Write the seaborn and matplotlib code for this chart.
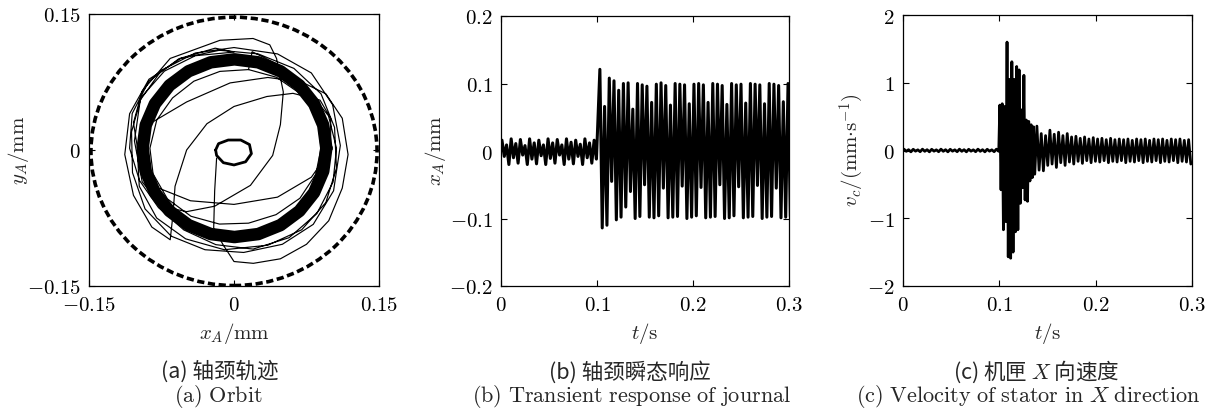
import numpy as np
import pandas as pd
import matplotlib
matplotlib.use("Agg")
import matplotlib.pyplot as plt
from matplotlib.patches import Circle
from matplotlib.ticker import FuncFormatter
import seaborn as sns

# ---------------- data ----------------
# (a) orbit
clear_r = 0.148            # clearance circle radius
clear_cx, clear_cy = 0.0, -0.0015

small_x = [-0.019, -0.016, -0.006, 0.007, 0.016, 0.018, 0.012, 0.000, -0.011, -0.018, -0.019]
small_y = [0.000, 0.007, 0.011, 0.011, 0.006, -0.004, -0.013, -0.0165, -0.014, -0.006, 0.000]

ring_x = [0.0955, 0.0923, 0.0828, 0.0677, 0.0480, 0.0251, 0.0005, -0.0241, -0.0470, -0.0667,
          -0.0818, -0.0913, -0.0945, -0.0913, -0.0818, -0.0667, -0.0470, -0.0241, 0.0005, 0.0251,
          0.0480, 0.0677, 0.0828, 0.0923, 0.0955]
ring_y = [0.002, 0.0274, 0.051, 0.0713, 0.0869, 0.0967, 0.100, 0.0967, 0.0869, 0.0713,
          0.051, 0.0274, 0.002, -0.0234, -0.047, -0.0673, -0.0829, -0.0927, -0.096, -0.0927,
          -0.0829, -0.0673, -0.047, -0.0234, 0.002]

orbit_x = [-0.018, -0.020, -0.021, -0.011, 0.000, 0.020, 0.048, 0.075, 0.098, 0.112, 0.118, 0.112,
           0.095, 0.070, 0.035, -0.004, -0.049, -0.084, -0.100, -0.098, -0.080, -0.050, -0.010,
           0.035, 0.070, 0.095, 0.106, 0.104, 0.090, 0.062, 0.025, -0.015, -0.055, -0.088, -0.108,
           -0.113, -0.104, -0.085, -0.066, -0.063, -0.061, -0.049, -0.028, 0.000, 0.034, 0.061,
           0.089, 0.100, 0.100, 0.080, 0.045, 0.000, -0.045, -0.078, -0.098, -0.104, -0.095,
           -0.066, -0.0145, 0.0197, 0.037, 0.044, 0.051, 0.048, 0.040, 0.017, -0.020, -0.049,
           -0.075, -0.095, -0.103, -0.097, -0.075, -0.040, 0.000, 0.045, 0.080, 0.102, 0.110,
           0.103, 0.082, 0.050, 0.010, -0.030, -0.065, -0.092, -0.105, -0.106, -0.096, -0.072,
           -0.040, 0.000,
           -0.0195, -0.057, -0.0881, -0.1053, -0.108, -0.0978, -0.0781, -0.052, -0.0188, 0.0197,
           0.057, 0.0858, 0.1025, 0.106, 0.0978, 0.0766, 0.0515, 0.0188,
           0.015, -0.0146, -0.0415, -0.0636, -0.0799, -0.087, -0.0837, -0.0689, -0.0445, -0.0151,
           0.015, 0.0435, 0.0682, 0.0846, 0.090, 0.0865, 0.0689, 0.044, 0.015]
orbit_y = [-0.009, -0.045, -0.086, -0.105, -0.123, -0.125, -0.120, -0.104, -0.078, -0.042, -0.005,
           0.035, 0.062, 0.075, 0.080, 0.074, 0.053, 0.031, 0.000, -0.040, -0.075, -0.098, -0.110,
           -0.105, -0.088, -0.058, -0.020, 0.025, 0.062, 0.090, 0.106, 0.110, 0.101, 0.078, 0.040,
           -0.005, -0.050, -0.085, -0.099, -0.070, -0.040, 0.000, 0.029, 0.048, 0.059, 0.0625,
           0.055, 0.035, 0.000, -0.030, -0.052, -0.060, -0.056, -0.042, -0.010, 0.030, 0.065,
           0.101, 0.121, 0.123, 0.116, 0.101, 0.064, 0.028, -0.006, -0.039, -0.062, -0.068,
           -0.062, -0.035, 0.010, 0.055, 0.088, 0.107, 0.113, 0.106, 0.085, 0.050, 0.005,
           -0.045, -0.082, -0.104, -0.113, -0.110, -0.095, -0.065, -0.025, 0.020, 0.058, 0.087,
           0.104, 0.108,
           0.1123, 0.1007, 0.0759, 0.0403, 0.002, -0.0336, -0.0636, -0.0881, -0.1044, -0.1093,
           -0.0967, -0.070, -0.0353, 0.002, 0.0376, 0.0663, 0.0912, 0.1084,
           0.0887, 0.0867, 0.0759, 0.0574, 0.0331, 0.002, -0.0264, -0.0539, -0.0731, -0.0817,
           -0.0807, -0.0713, -0.0532, -0.0268, 0.002, 0.0355, 0.0619, 0.0802, 0.0887]

# (b) journal displacement: per-cycle peaks and troughs
pre_peak_t = [0.0010, 0.0058, 0.0106, 0.0154, 0.0202, 0.0250, 0.0298, 0.0346, 0.0394, 0.0442, 0.0490,
              0.0538, 0.0586, 0.0634, 0.0682, 0.0730, 0.0778, 0.0826, 0.0874, 0.0922, 0.0970]
pre_trough_t = [0.0034, 0.0082, 0.0130, 0.0178, 0.0226, 0.0274, 0.0322, 0.0370, 0.0418, 0.0466, 0.0514,
                0.0562, 0.0610, 0.0658, 0.0706, 0.0754, 0.0802, 0.0850, 0.0898, 0.0946, 0.0994]
b_pre_peak = [0.016, 0.009, 0.018, 0.011, 0.017, 0.008, 0.018, 0.012, 0.016, 0.009, 0.018,
              0.012, 0.017, 0.009, 0.018, 0.013, 0.016, 0.010, 0.018, 0.012, 0.016]
b_pre_trough = [-0.008, -0.020, -0.010, -0.018, -0.006, -0.020, -0.012, -0.019, -0.007, -0.020, -0.011,
                -0.018, -0.006, -0.020, -0.012, -0.019, -0.008, -0.020, -0.010, -0.018, -0.012]

b_post_peak_t = [0.1030, 0.1079, 0.1128, 0.1177, 0.1226, 0.1275, 0.1324, 0.1373, 0.1422, 0.1471,
                 0.1520, 0.1569, 0.1618, 0.1667, 0.1716, 0.1765, 0.1814, 0.1863, 0.1912, 0.1961,
                 0.2010, 0.2059, 0.2108, 0.2157, 0.2206, 0.2255, 0.2304, 0.2353, 0.2402, 0.2451,
                 0.2500, 0.2549, 0.2598, 0.2647, 0.2696, 0.2745, 0.2794, 0.2843, 0.2892, 0.2941, 0.2990]
b_post_trough_t = [0.10545, 0.11035, 0.11525, 0.12015, 0.12505, 0.12995, 0.13485, 0.13975, 0.14465,
                   0.14955, 0.15445, 0.15935, 0.16425, 0.16915, 0.17405, 0.17895, 0.18385, 0.18875,
                   0.19365, 0.19855, 0.20345, 0.20835, 0.21325, 0.21815, 0.22305, 0.22795, 0.23285,
                   0.23775, 0.24265, 0.24755, 0.25245, 0.25735, 0.26225, 0.26715, 0.27205, 0.27695,
                   0.28185, 0.28675, 0.29165, 0.29655, 0.30145]
b_post_peak = [0.121, 0.066, 0.108, 0.104, 0.090, 0.100, 0.101, 0.062, 0.100, 0.098, 0.096, 0.072,
               0.099, 0.101, 0.097, 0.068, 0.100, 0.099, 0.098, 0.070, 0.099, 0.100, 0.098, 0.072,
               0.100, 0.099, 0.097, 0.069, 0.100, 0.098, 0.099, 0.071, 0.100, 0.099, 0.098, 0.070,
               0.100, 0.099, 0.097, 0.073, 0.100]
b_post_trough = [-0.114, -0.110, -0.045, -0.102, -0.098, -0.083, -0.060, -0.100, -0.097, -0.050,
                 -0.098, -0.099, -0.096, -0.055, -0.099, -0.098, -0.097, -0.052, -0.100, -0.098,
                 -0.096, -0.054, -0.099, -0.098, -0.097, -0.050, -0.100, -0.099, -0.096, -0.053,
                 -0.099, -0.098, -0.097, -0.051, -0.100, -0.098, -0.097, -0.055, -0.099, -0.098, -0.097]

# (c) stator velocity
c_pre_peak = [0.020, 0.012, 0.018, 0.010, 0.020, 0.012, 0.018, 0.010, 0.020, 0.012, 0.018,
              0.010, 0.020, 0.012, 0.018, 0.010, 0.020, 0.012, 0.018, 0.010, 0.020]
c_pre_trough = [-0.012, -0.020, -0.010, -0.018, -0.012, -0.020, -0.010, -0.018, -0.012, -0.020, -0.010,
                -0.018, -0.012, -0.020, -0.010, -0.018, -0.012, -0.020, -0.010, -0.018, -0.012]
c_post_peak_t = [0.1005, 0.1030, 0.1055, 0.1080, 0.1105, 0.1130, 0.1155, 0.1180, 0.1205, 0.1230,
                 0.1255, 0.1280, 0.1305, 0.1330, 0.1355,
                 0.1390, 0.1435, 0.1480, 0.1525, 0.1570, 0.1615, 0.1660, 0.1705, 0.1750, 0.1795,
                 0.1840, 0.1885, 0.1930, 0.1975, 0.2020, 0.2065, 0.2110, 0.2155, 0.2200, 0.2245,
                 0.2290, 0.2335, 0.2380, 0.2425, 0.2470, 0.2515, 0.2560, 0.2605, 0.2650, 0.2695,
                 0.2740, 0.2785, 0.2830, 0.2875, 0.2920, 0.2965]
c_post_trough_t = [0.10175, 0.10425, 0.10675, 0.10925, 0.11175, 0.11425, 0.11675, 0.11925, 0.12175,
                   0.12425, 0.12675, 0.12925, 0.13175, 0.13425, 0.13675,
                   0.14125, 0.14575, 0.15025, 0.15475, 0.15925, 0.16375, 0.16825, 0.17275, 0.17725,
                   0.18175, 0.18625, 0.19075, 0.19525, 0.19975, 0.20425, 0.20875, 0.21325, 0.21775,
                   0.22225, 0.22675, 0.23125, 0.23575, 0.24025, 0.24475, 0.24925, 0.25375, 0.25825,
                   0.26275, 0.26725, 0.27175, 0.27625, 0.28075, 0.28525, 0.28975, 0.29425, 0.29875]
c_post_peak = [0.67, 0.69, 0.65, 1.60, 1.05, 1.31, 1.05, 1.24, 1.19, 0.60, 1.11, 0.45, 0.43, 0.38, 0.35,
               0.36, 0.25, 0.22, 0.30, 0.24, 0.27, 0.22, 0.25, 0.20, 0.21, 0.18, 0.20, 0.17, 0.19,
               0.17, 0.18, 0.16, 0.18, 0.16, 0.17, 0.16, 0.17, 0.15, 0.17, 0.16, 0.17, 0.15, 0.17,
               0.16, 0.17, 0.15, 0.17, 0.16, 0.17, 0.15, 0.16]
c_post_trough = [-0.58, -1.17, -1.05, -1.57, -1.59, -1.50, -1.20, -1.17, -0.78, -0.55, -0.73, -0.75,
                 -0.45, -0.40, -0.35,
                 -0.29, -0.30, -0.22, -0.20, -0.25, -0.18, -0.22, -0.17, -0.20, -0.16, -0.19, -0.15,
                 -0.18, -0.16, -0.17, -0.15, -0.18, -0.16, -0.17, -0.15, -0.18, -0.16, -0.17, -0.15,
                 -0.18, -0.16, -0.17, -0.15, -0.18, -0.16, -0.17, -0.15, -0.18, -0.16, -0.17, -0.20]

ticks_a = [-0.15, 0, 0.15]
ticks_t = [0, 0.1, 0.2, 0.3]
ticks_b = [-0.2, -0.1, 0, 0.1, 0.2]
ticks_c = [-2, -1, 0, 1, 2]

# ---------------- style ----------------
sns.set_theme(style="ticks")
plt.rcParams["font.family"] = ["Noto Sans CJK SC", "DejaVu Sans"]
plt.rcParams["mathtext.fontset"] = "cm"
plt.rcParams.update({
    "xtick.direction": "in", "ytick.direction": "in",
    "xtick.top": True, "ytick.right": True,
    "xtick.major.size": 4, "ytick.major.size": 4,
    "xtick.major.width": 0.8, "ytick.major.width": 0.8,
    "axes.linewidth": 0.9, "axes.edgecolor": "black",
    "xtick.color": "black", "ytick.color": "black",
})

fig = plt.figure(figsize=(12.10, 4.16), dpi=100)
ax_a = fig.add_axes([89 / 1210, 1 - 286 / 416, 290 / 1210, 272 / 416])
ax_b = fig.add_axes([501 / 1210, 1 - 286 / 416, 288 / 1210, 270 / 416])
ax_c = fig.add_axes([903 / 1210, 1 - 286 / 416, 289 / 1210, 271 / 416])

math_fmt = FuncFormatter(lambda v, _: "$%s$" % ("%g" % v))


def series(pt, pv, tt, tv):
    df = pd.DataFrame({"t": list(pt) + list(tt), "v": list(pv) + list(tv)})
    return df.sort_values("t")


# (a) orbit
ax_a.add_patch(Circle((clear_cx, clear_cy), clear_r, fill=False, ec="black", lw=2.6,
                      ls=(0, (2.0, 1.0))))
sns.lineplot(x=ring_x, y=ring_y, sort=False, estimator=None, color="black", lw=9.0, ax=ax_a)
sns.lineplot(x=orbit_x, y=orbit_y, sort=False, estimator=None, color="black", lw=0.85, ax=ax_a)
sns.lineplot(x=small_x, y=small_y, sort=False, estimator=None, color="black", lw=2.0, ax=ax_a)
ax_a.set_xlim(-0.15, 0.15)
ax_a.set_ylim(-0.15, 0.15)
ax_a.set_xticks(ticks_a)
ax_a.set_yticks(ticks_a)
ax_a.set_xlabel(r"$x_A/\mathrm{mm}$", fontsize=15, labelpad=3)
ax_a.set_ylabel(r"$y_A/\mathrm{mm}$", fontsize=15, labelpad=-3)

# (b) journal transient response
df_b = series(pre_peak_t + b_post_peak_t, b_pre_peak + b_post_peak,
              pre_trough_t + b_post_trough_t, b_pre_trough + b_post_trough)
sns.lineplot(data=df_b, x="t", y="v", sort=False, estimator=None, color="black", lw=2.2, ax=ax_b)
ax_b.set_xlim(0, 0.3)
ax_b.set_ylim(-0.2, 0.2)
ax_b.set_xticks(ticks_t)
ax_b.set_yticks(ticks_b)
ax_b.set_xlabel(r"$t/\mathrm{s}$", fontsize=15, labelpad=3)
ax_b.set_ylabel(r"$x_A/\mathrm{mm}$", fontsize=15, labelpad=1)

# (c) stator velocity
df_c = series(pre_peak_t + c_post_peak_t, c_pre_peak + c_post_peak,
              pre_trough_t + c_post_trough_t, c_pre_trough + c_post_trough)
sns.lineplot(data=df_c, x="t", y="v", sort=False, estimator=None, color="black", lw=2.0, ax=ax_c)
ax_c.set_xlim(0, 0.3)
ax_c.set_ylim(-2, 2)
ax_c.set_xticks(ticks_t)
ax_c.set_yticks(ticks_c)
ax_c.set_xlabel(r"$t/\mathrm{s}$", fontsize=15, labelpad=3)
ax_c.set_ylabel(r"$v_c/(\mathrm{mm{\cdot}s}^{-1})$", fontsize=15, labelpad=1)

for ax in (ax_a, ax_b, ax_c):
    ax.xaxis.set_major_formatter(math_fmt)
    ax.yaxis.set_major_formatter(math_fmt)
    ax.tick_params(labelsize=15, pad=6)
    for s in ax.spines.values():
        s.set_visible(True)
        s.set_color("black")

# captions
cap_cn = [(220, "(a) 轴颈轨迹"), (630, "(b) 轴颈瞬态响应"), (1036, "(c) 机匣 $X$ 向速度")]
cap_en = [(218, r"$\mathrm{(a)\ Orbit}$"),
          (632, r"$\mathrm{(b)\ Transient\ response\ of\ journal}$"),
          (1028, r"$\mathrm{(c)\ Velocity\ of\ stator\ in\ }X\mathrm{\ direction}$")]
for x, s in cap_cn:
    fig.text(x / 1210, 1 - 372 / 416, s, ha="center", va="center", fontsize=15.5,
             family=["Noto Sans CJK SC", "DejaVu Sans"])
for x, s in cap_en:
    fig.text(x / 1210, 1 - 397 / 416, s, ha="center", va="center", fontsize=16)

fig.savefig("out.png", dpi=100)
